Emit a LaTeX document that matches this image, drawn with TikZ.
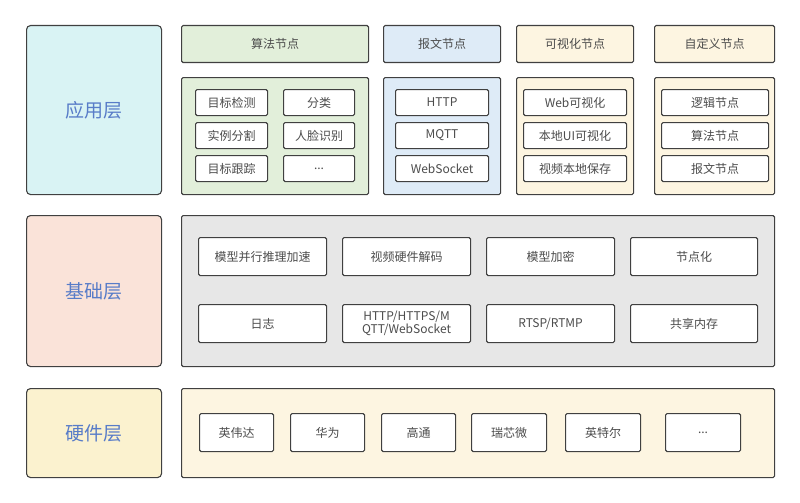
\documentclass[tikz,border=0pt]{standalone}
\usepackage{fontspec}
\setmainfont{Noto Sans CJK SC}
\begin{document}
\begin{tikzpicture}[x=1pt,y=-1pt,
 bx/.style={draw=black!75,line width=1.1pt,rounded corners=1.5pt,text=black!70,font=\fontsize{12}{13.5}\selectfont,align=center,inner sep=0pt},
 lay/.style={bx,rounded corners=4pt,font=\fontsize{19}{21}\selectfont},
 ib/.style={bx,fill=white}]
\path[use as bounding box] (0,0) rectangle (800,503);
\fill[white] (0,0) rectangle (800,503);
\newcommand\bxx[5]{\node[#1,minimum width=#4-#2,minimum height=#5-#3,anchor=north west] at (#2,#3)}
\definecolor{cg}{RGB}{226,239,218}
\definecolor{cb}{RGB}{222,235,247}
\definecolor{cy}{RGB}{253,245,225}
\definecolor{cgy}{RGB}{231,231,231}
\definecolor{lt}{RGB}{88,124,200}
\definecolor{l1}{RGB}{217,243,244}
\definecolor{l2}{RGB}{250,227,217}
\definecolor{l3}{RGB}{251,242,207}
% layer labels
\bxx{lay,fill=l1,text=lt}{26}{25}{161}{194} (L1) {应用层};
\bxx{lay,fill=l2,text=lt}{26}{215}{161}{366} (L2) {基础层};
\bxx{lay,fill=l3,text=lt}{26}{388}{161}{477} (L3) {硬件层};
% headers
\bxx{bx,fill=cg}{181}{25}{368}{62} (h1) {算法节点};
\bxx{bx,fill=cb}{383}{25}{500}{62} (h2) {报文节点};
\bxx{bx,fill=cy}{516}{25}{633}{62} (h3) {可视化节点};
\bxx{bx,fill=cy}{654}{25}{774}{62} (h4) {自定义节点};
\bxx{bx,fill=cg}{181}{77}{368}{194} (c1) {};
\bxx{bx,fill=cb}{383}{77}{500}{194} (c2) {};
\bxx{bx,fill=cy}{516}{77}{633}{194} (c3) {};
\bxx{bx,fill=cy}{654}{77}{774}{194} (c4) {};
\bxx{ib}{195}{89}{267}{115} (a1) {目标检测};
\bxx{ib}{283}{89}{354}{115} (a2) {分类};
\bxx{ib}{195}{122}{267}{148} (a3) {实例分割};
\bxx{ib}{283}{122}{354}{148} (a4) {人脸识别};
\bxx{ib}{195}{155}{267}{181} (a5) {目标跟踪};
\bxx{ib}{283}{155}{354}{181} (a6) {...};
\bxx{ib}{395}{89}{488}{115} (b1) {HTTP};
\bxx{ib}{395}{122}{488}{148} (b2) {MQTT};
\bxx{ib}{395}{155}{488}{181} (b3) {WebSocket};
\bxx{ib}{523}{89}{626}{115} (v1) {Web可视化};
\bxx{ib}{523}{122}{626}{148} (v2) {本地UI可视化};
\bxx{ib}{523}{155}{626}{181} (v3) {视频本地保存};
\bxx{ib}{661}{89}{768}{115} (z1) {逻辑节点};
\bxx{ib}{661}{122}{768}{148} (z2) {算法节点};
\bxx{ib}{661}{155}{768}{181} (z3) {报文节点};
% foundation
\bxx{bx,fill=cgy}{181}{215}{774}{366} (F) {};
\bxx{ib}{198}{237}{326}{275} (f1) {模型并行推理加速};
\bxx{ib}{342}{237}{470}{275} (f2) {视频硬件解码};
\bxx{ib}{486}{237}{614}{275} (f3) {模型加密};
\bxx{ib}{630}{237}{757}{275} (f4) {节点化};
\bxx{ib}{198}{304}{326}{342} (f5) {日志};
\bxx{ib}{342}{304}{470}{342} (f6) {HTTP/HTTPS/M\\QTT/WebSocket};
\bxx{ib}{486}{304}{614}{342} (f7) {RTSP/RTMP};
\bxx{ib}{630}{304}{757}{342} (f8) {共享内存};
% hardware
\bxx{bx,fill=cy}{181}{388}{774}{477} (H) {};
\bxx{ib}{199}{413}{273}{451} (w1) {英伟达};
\bxx{ib}{290}{413}{364}{451} (w2) {华为};
\bxx{ib}{381}{413}{455}{451} (w3) {高通};
\bxx{ib}{471}{413}{546}{451} (w4) {瑞芯微};
\bxx{ib}{565}{413}{640}{451} (w5) {英特尔};
\bxx{ib}{665}{413}{740}{451} (w6) {...};
\end{tikzpicture}
\end{document}
